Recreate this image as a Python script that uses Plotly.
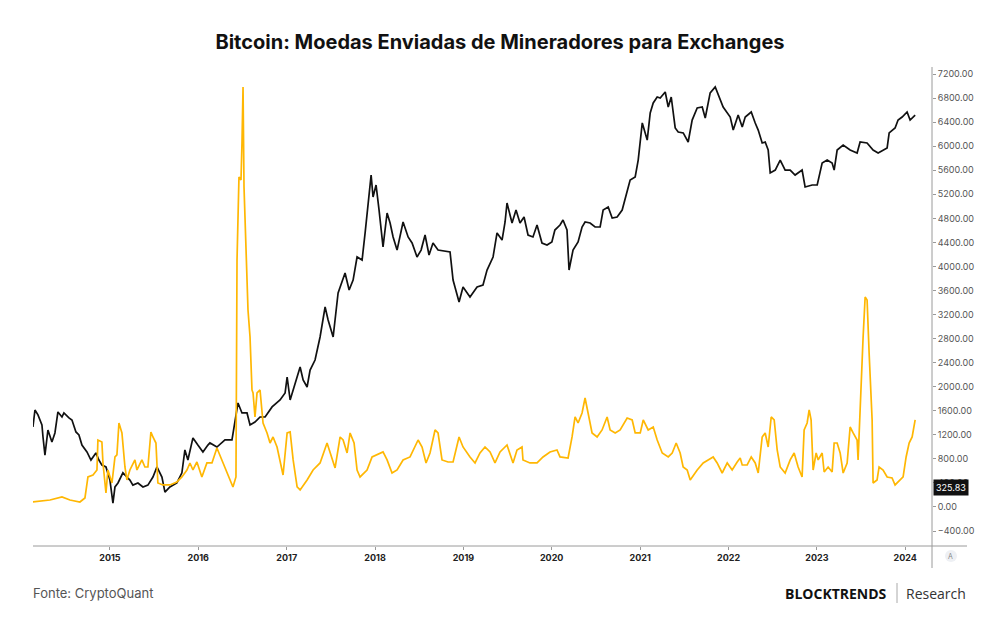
import plotly.graph_objects as go
from datetime import datetime

# ---------------- data ----------------
# Coins sent from miners to exchanges (time in decimal years, value in BTC)
miner_t = [2014.128, 2014.321, 2014.457, 2014.547, 2014.660, 2014.717, 2014.751, 2014.808, 2014.853, 2014.864,
           2014.909, 2014.921, 2014.955, 2014.977, 2015.023, 2015.057, 2015.079, 2015.102, 2015.136, 2015.170,
           2015.192, 2015.226, 2015.283, 2015.306, 2015.362, 2015.396, 2015.430, 2015.464, 2015.487, 2015.521,
           2015.543, 2015.600, 2015.679, 2015.758, 2015.815, 2015.872, 2015.906, 2015.940, 2015.985, 2016.041,
           2016.098, 2016.155, 2016.211, 2016.268, 2016.324, 2016.392, 2016.426, 2016.438, 2016.460, 2016.483,
           2016.494, 2016.506, 2016.517, 2016.540, 2016.551, 2016.562, 2016.585, 2016.607, 2016.619, 2016.641,
           2016.664, 2016.698, 2016.732, 2016.777, 2016.811, 2016.845, 2016.890, 2016.924, 2016.958, 2017.004,
           2017.038, 2017.072, 2017.117, 2017.151, 2017.230, 2017.298, 2017.377, 2017.456, 2017.513, 2017.547,
           2017.604, 2017.638, 2017.683, 2017.717, 2017.762, 2017.796, 2017.830, 2017.909, 2017.966, 2018.056,
           2018.090, 2018.136, 2018.192, 2018.249, 2018.317, 2018.396, 2018.487, 2018.532, 2018.577, 2018.622,
           2018.679, 2018.713, 2018.758, 2018.826, 2018.883, 2018.951, 2018.996, 2019.075, 2019.132, 2019.188,
           2019.245, 2019.302, 2019.358, 2019.415, 2019.494, 2019.562, 2019.607, 2019.664, 2019.675, 2019.754,
           2019.834, 2019.902, 2019.981, 2020.060, 2020.094, 2020.185, 2020.230, 2020.264, 2020.298, 2020.343,
           2020.377, 2020.411, 2020.456, 2020.513, 2020.569, 2020.626, 2020.660, 2020.717, 2020.773, 2020.852,
           2020.909, 2020.943, 2021.000, 2021.034, 2021.090, 2021.147, 2021.192, 2021.249, 2021.317, 2021.362,
           2021.407, 2021.452, 2021.486, 2021.532, 2021.566, 2021.645, 2021.713, 2021.769, 2021.826, 2021.871,
           2021.928, 2021.985, 2022.041, 2022.098, 2022.132, 2022.155, 2022.211, 2022.257, 2022.302, 2022.336,
           2022.381, 2022.415, 2022.449, 2022.483, 2022.517, 2022.551, 2022.585, 2022.641, 2022.698, 2022.743,
           2022.788, 2022.833, 2022.856, 2022.890, 2022.913, 2022.935, 2022.958, 2022.992, 2023.015, 2023.060,
           2023.083, 2023.128, 2023.173, 2023.196, 2023.230, 2023.264, 2023.298, 2023.343, 2023.377, 2023.411,
           2023.456, 2023.467, 2023.490, 2023.524, 2023.547, 2023.569, 2023.592, 2023.626, 2023.637, 2023.682,
           2023.705, 2023.750, 2023.796, 2023.852, 2023.886, 2023.943, 2023.977, 2024.011, 2024.045, 2024.079,
           2024.113]
miner_v = [83, 116, 166, 116, 83, 150, 499, 532, 615, 1114,
           1081, 732, 233, 615, 399, 832, 865, 1397, 1231, 665,
           449, 615, 782, 615, 782, 665, 665, 1247, 1164, 1064,
           399, 366, 366, 416, 499, 615, 732, 615, 748, 499,
           732, 732, 981, 782, 565, 333, 499, 4108, 5488, 5438,
           6053, 6985, 5322, 4108, 3559, 3276, 2827, 1946, 1896, 1497,
           1896, 1946, 1397, 1231, 1064, 1164, 998, 782, 532, 1231,
           1247, 782, 333, 283, 449, 615, 732, 1064, 782, 649,
           1164, 1114, 898, 1231, 1064, 615, 499, 615, 832, 898,
           915, 782, 565, 615, 782, 832, 1114, 998, 732, 898,
           1281, 1231, 782, 748, 748, 1164, 998, 832, 732, 898,
           998, 915, 732, 915, 1031, 732, 948, 998, 782, 732,
           732, 832, 915, 948, 832, 815, 1164, 1497, 1397, 1563,
           1813, 1563, 1231, 1164, 1281, 1497, 1281, 1231, 1281, 1480,
           1447, 1231, 1231, 1447, 1281, 1330, 1114, 898, 832, 898,
           1064, 898, 665, 615, 449, 615, 732, 782, 832, 732,
           565, 732, 615, 748, 815, 698, 698, 832, 732, 565,
           1164, 1231, 998, 1497, 1447, 948, 665, 565, 782, 898,
           665, 499, 1281, 1397, 1613, 1447, 615, 898, 782, 898,
           582, 665, 582, 1064, 1064, 898, 565, 732, 1330, 1231,
           1114, 782, 1730, 2827, 3492, 3442, 2561, 1447, 399, 449,
           665, 615, 499, 482, 366, 449, 499, 832, 1064, 1164,
           1447]

# Bitcoin price (USD), drawn on a hidden log scale
btc_t = [2014.128, 2014.151, 2014.185, 2014.230, 2014.242, 2014.264, 2014.298, 2014.343, 2014.377, 2014.411,
         2014.457, 2014.479, 2014.536, 2014.570, 2014.615, 2014.649, 2014.683, 2014.740, 2014.785, 2014.841,
         2014.875, 2014.909, 2014.955, 2015.000, 2015.034, 2015.057, 2015.091, 2015.147, 2015.192, 2015.226,
         2015.260, 2015.317, 2015.374, 2015.430, 2015.487, 2015.532, 2015.589, 2015.623, 2015.679, 2015.758,
         2015.815, 2015.849, 2015.883, 2015.940, 2015.996, 2016.053, 2016.109, 2016.132, 2016.211, 2016.302,
         2016.381, 2016.415, 2016.449, 2016.494, 2016.551, 2016.585, 2016.641, 2016.698, 2016.755, 2016.834,
         2016.924, 2016.981, 2017.004, 2017.038, 2017.094, 2017.151, 2017.185, 2017.230, 2017.264, 2017.320,
         2017.377, 2017.434, 2017.468, 2017.525, 2017.581, 2017.660, 2017.706, 2017.751, 2017.796, 2017.853,
         2017.887, 2017.921, 2017.955, 2017.977, 2018.011, 2018.045, 2018.090, 2018.136, 2018.170, 2018.204,
         2018.249, 2018.317, 2018.374, 2018.419, 2018.475, 2018.521, 2018.566, 2018.611, 2018.656, 2018.713,
         2018.849, 2018.883, 2018.917, 2018.951, 2018.996, 2019.075, 2019.155, 2019.222, 2019.268, 2019.336,
         2019.381, 2019.438, 2019.472, 2019.494, 2019.551, 2019.596, 2019.641, 2019.687, 2019.732, 2019.788,
         2019.834, 2019.890, 2019.947, 2020.002, 2020.036, 2020.094, 2020.128, 2020.173, 2020.196, 2020.241,
         2020.298, 2020.343, 2020.377, 2020.434, 2020.490, 2020.547, 2020.581, 2020.638, 2020.683, 2020.739,
         2020.796, 2020.830, 2020.886, 2020.943, 2020.977, 2021.023, 2021.079, 2021.113, 2021.147, 2021.192,
         2021.226, 2021.283, 2021.317, 2021.351, 2021.396, 2021.430, 2021.487, 2021.543, 2021.588, 2021.645,
         2021.702, 2021.736, 2021.792, 2021.849, 2021.883, 2021.939, 2022.019, 2022.053, 2022.109, 2022.155,
         2022.189, 2022.257, 2022.302, 2022.336, 2022.381, 2022.415, 2022.449, 2022.472, 2022.529, 2022.585,
         2022.641, 2022.698, 2022.754, 2022.833, 2022.867, 2022.947, 2023.004, 2023.060, 2023.117, 2023.173,
         2023.196, 2023.230, 2023.298, 2023.377, 2023.456, 2023.490, 2023.569, 2023.637, 2023.694, 2023.750,
         2023.796, 2023.819, 2023.886, 2023.920, 2023.966, 2024.022, 2024.056, 2024.113]
btc_p = [527, 672, 627, 542, 457, 353, 505, 426, 484, 653,
         608, 644, 600, 582, 491, 470, 407, 369, 329, 364,
         329, 306, 298, 247, 178, 224, 237, 274, 258, 247,
         230, 237, 224, 230, 258, 298, 258, 208, 224, 237,
         274, 380, 329, 451, 407, 369, 407, 420, 396, 438,
         438, 582, 743, 644, 644, 542, 566, 608, 608, 702,
         775, 857, 1076, 775, 988, 1241, 1031, 933, 1189, 1371,
         1905, 2924, 2427, 1905, 3573, 4753, 3724, 4295, 5970, 5715,
         8414, 13460, 19230, 14060, 16680, 11670, 6890, 11190, 9700, 7943,
         6590, 9840, 7943, 7290, 5970, 6590, 8170, 6140, 7290, 6590,
         6410, 4295, 3724, 3140, 3890, 3373, 3890, 4000, 4955, 5970,
         8414, 7600, 9840, 12910, 9700, 11670, 9700, 10570, 8170, 7943,
         9420, 7290, 7079, 7400, 8770, 9420, 10120, 8770, 4955, 6590,
         7400, 9160, 9840, 9700, 9160, 9160, 11670, 12190, 10420, 10570,
         11670, 13870, 17910, 18700, 23830, 40460, 31700, 46670, 53830, 58610,
         57770, 62950, 50820, 58610, 37670, 35560, 35080, 30830, 42170, 50120,
         50820, 43450, 62090, 67610, 60260, 50820, 44060, 36560, 45290, 38190,
         44060, 47320, 40460, 36560, 30410, 30830, 27480, 19820, 20650, 23830,
         20650, 20650, 19230, 20650, 16220, 16680, 16680, 22860, 23830, 22860,
         20650, 27480, 29510, 27480, 26360, 30830, 30410, 27480, 26360, 27480,
         28310, 35080, 37670, 42170, 44060, 47320, 42170, 45290]

year_ticks = [2015, 2016, 2017, 2018, 2019, 2020, 2021, 2022, 2023, 2024]
value_ticks = [-400, 0, 400, 800, 1200, 1600, 2000, 2400, 2800, 3200, 3600,
               4000, 4400, 4800, 5200, 5600, 6000, 6400, 6800, 7200]
last_label = 325.83


def to_date(t):
    y = int(t)
    a, b = datetime(y, 1, 1), datetime(y + 1, 1, 1)
    return a + (b - a) * (t - y)


YELLOW = "#FFB703"
FONT = "Inter, Roboto, 'Open Sans', sans-serif"
PW, PH = 899, 479  # plot area size in px


def px(x):
    return (x - 33) / PW


def py(y):
    return (546 - y) / PH


fig = go.Figure()
fig.add_trace(go.Scatter(x=[to_date(t) for t in btc_t], y=btc_p, mode="lines",
                         line=dict(color="#111111", width=1.7), yaxis="y",
                         name="BTC", hoverinfo="skip"))
fig.add_trace(go.Scatter(x=[to_date(t) for t in miner_t], y=miner_v, mode="lines",
                         line=dict(color=YELLOW, width=1.7), yaxis="y2",
                         name="Miners to exchanges", hoverinfo="skip"))

fig.update_layout(
    width=1000, height=630,
    margin=dict(l=33, r=68, t=67, b=84),
    paper_bgcolor="white", plot_bgcolor="white",
    showlegend=False,
    font=dict(family=FONT, color="#333333"),
    title=dict(text="<b>Bitcoin: Moedas Enviadas de Mineradores para Exchanges</b>",
               x=0.5, xref="container", xanchor="center",
               y=1 - 42 / 630, yref="container", yanchor="middle",
               font=dict(family=FONT, size=20, color="#111111")),
    xaxis=dict(type="date", range=["2014-02-17", "2024-04-21"],
               tickvals=[datetime(y, 1, 1) for y in year_ticks],
               ticktext=[str(y) for y in year_ticks],
               showgrid=False, zeroline=False, showline=False,
               ticks="outside", ticklen=3, tickcolor="#999999",
               tickfont=dict(family=FONT, size=9, color="#222222", weight="bold")),
    yaxis=dict(type="log", range=[1.984, 4.954], visible=False, showgrid=False),
    yaxis2=dict(overlaying="y", side="right", range=[-649, 7317],
                tickvals=value_ticks, tickformat=".2f",
                showgrid=False, zeroline=False, showline=False,
                ticks="outside", ticklen=3, tickcolor="#999999",
                tickfont=dict(family=FONT, size=9, color="#555555")),
)

# axis lines (TradingView style: bottom line runs under the price scale)
fig.add_shape(type="line", xref="paper", yref="paper", x0=0, x1=px(967), y0=0, y1=0,
              line=dict(color="#9a9a9a", width=1))
fig.add_shape(type="line", xref="paper", yref="paper", x0=1, x1=1, y0=py(568), y1=1,
              line=dict(color="#9a9a9a", width=1))

# last value label
fig.add_annotation(x=1, xref="paper", y=last_label, yref="y2", xanchor="left", yanchor="middle",
                   xshift=1, text=f"{last_label:.2f}", showarrow=False,
                   bgcolor="#111111", font=dict(family=FONT, size=9, color="white"),
                   borderpad=2)

# "A" auto-scale button
fig.add_shape(type="circle", xref="paper", yref="paper",
              x0=px(945), x1=px(957), y0=py(562), y1=py(550),
              fillcolor="#eef0f4", line=dict(width=0))
fig.add_annotation(x=px(951), y=py(556), xref="paper", yref="paper", text="A", showarrow=False,
                   xanchor="center", yanchor="middle", borderpad=0,
                   font=dict(family=FONT, size=7, color="#888888"))

# footer
fig.add_annotation(x=px(31), y=py(593), xref="paper", yref="paper",
                   xanchor="left", yanchor="middle", text="Fonte: CryptoQuant", showarrow=False,
                   font=dict(family=FONT, size=13, color="#555555"))
fig.add_annotation(x=px(889), y=py(593), xref="paper", yref="paper",
                   xanchor="right", yanchor="middle", text="<b>BLOCKTRENDS</b>", showarrow=False,
                   font=dict(family="'Open Sans', sans-serif", size=14, color="#111111"))
fig.add_shape(type="line", xref="paper", yref="paper",
              x0=px(897), x1=px(897), y0=py(583), y1=py(603),
              line=dict(color="#aaaaaa", width=1))
fig.add_annotation(x=px(968), y=py(593), xref="paper", yref="paper",
                   xanchor="right", yanchor="middle", text="Research", showarrow=False,
                   font=dict(family="'Open Sans', sans-serif", size=14, color="#333333"))

fig.write_html("out.html")
